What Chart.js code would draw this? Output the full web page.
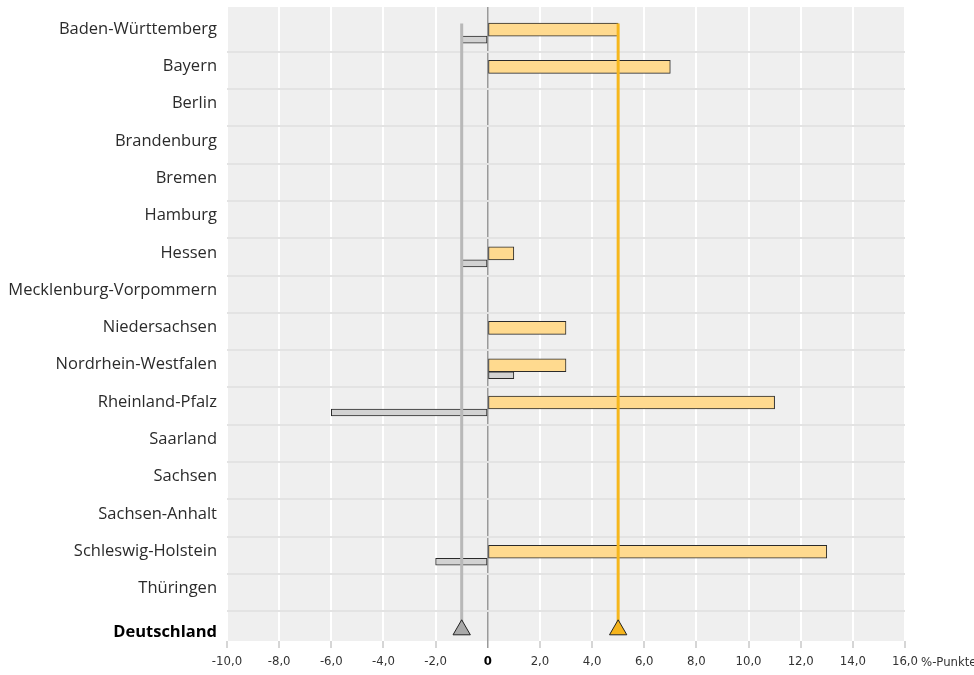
<!DOCTYPE html>
<html>
<head>
<meta charset="utf-8">
<script src="https://cdn.jsdelivr.net/npm/chart.js@4/dist/chart.umd.min.js"></script>
<style>
  html, body { margin: 0; padding: 0; background: #ffffff; }
  #wrap { width: 974px; height: 675px; position: relative; }
</style>
</head>
<body>
<div id="wrap"><canvas id="c"></canvas></div>
<script>
// ---- data ----
const categories = ['Baden-Württemberg', 'Bayern', 'Berlin', 'Brandenburg', 'Bremen', 'Hamburg', 'Hessen',
  'Mecklenburg-Vorpommern', 'Niedersachsen', 'Nordrhein-Westfalen', 'Rheinland-Pfalz', 'Saarland',
  'Sachsen', 'Sachsen-Anhalt', 'Schleswig-Holstein', 'Thüringen'];
const totalLabel = 'Deutschland';
const yellowValues = [5, 7, null, null, null, null, 1, null, 3, 3, 11, null, null, null, 13, null];
const grayValues = [-1, null, null, null, null, null, -1, null, null, 1, -6, null, null, null, -2, null];
const totalYellow = 5;
const totalGray = -1;
const xTickValues = [-10, -8, -6, -4, -2, 0, 2, 4, 6, 8, 10, 12, 14, 16];
const xTickLabels = ['-10,0', '-8,0', '-6,0', '-4,0', '-2,0', '0', '2,0', '4,0', '6,0', '8,0', '10,0', '12,0', '14,0', '16,0'];
const unitLabel = '%-Punkte';

// ---- layout / style constants ----
const totalIndex = categories.length;      // row of "Deutschland"
const rowMin = -0.7, rowMax = totalIndex + 0.3;
const barShift = 0.08;                      // bar group offset inside a row (rows)
const guideStart = -0.26;                   // where guide lines start (rows)
const labelFont = "'Open Sans', 'Noto Sans', sans-serif";
const tickFont = "'DejaVu Sans Condensed', 'Liberation Sans Narrow', 'Roboto', sans-serif";
const tickSize = 13;

const noPad = (s) => { s.paddingTop = 0; s.paddingBottom = 0; s.paddingLeft = 0; s.paddingRight = 0; };

const bgPlugin = {
  id: 'bg',
  beforeDraw(chart) {
    const a = chart.chartArea, ctx = chart.ctx;
    ctx.save();
    ctx.fillStyle = '#efefef';
    ctx.fillRect(a.left, a.top, a.right - a.left, a.bottom - a.top);
    ctx.restore();
  },
  afterDraw(chart) {
    const xs = chart.scales.x, ctx = chart.ctx;
    const last = xTickValues[xTickValues.length - 1];
    const px = xs.getPixelForValue(last);
    ctx.save();
    ctx.font = tickSize + 'px ' + tickFont;
    ctx.fillStyle = '#333333';
    ctx.textBaseline = 'middle';
    ctx.textAlign = 'left';
    const w = ctx.measureText(xTickLabels[xTickLabels.length - 1]).width;
    ctx.fillText(unitLabel, px + w / 2 + 3, 663);
    ctx.restore();
  }
};

const yellowData = yellowValues.map((v, i) => ({ x: v, y: i }));
const grayData = grayValues.map((v, i) => ({ x: v, y: i }));

new Chart(document.getElementById('c'), {
  type: 'bar',
  data: {
    datasets: [
      {
        type: 'line', label: 'Deutschland (gelb)', order: 0,
        data: [{ x: totalYellow, y: guideStart }, { x: totalYellow, y: totalIndex }],
        xAxisID: 'x', yAxisID: 'y',
        borderColor: '#f6b71d', borderWidth: 3,
        pointRadius: [0, 10], pointStyle: 'triangle',
        pointBackgroundColor: '#f5b41c', pointBorderColor: '#222222', pointBorderWidth: 1
      },
      {
        type: 'line', label: 'Deutschland (grau)', order: 0,
        data: [{ x: totalGray, y: guideStart }, { x: totalGray, y: totalIndex }],
        xAxisID: 'x', yAxisID: 'y',
        borderColor: '#b8b8b8', borderWidth: 3,
        pointRadius: [0, 10], pointStyle: 'triangle',
        pointBackgroundColor: '#a9a9a9', pointBorderColor: '#222222', pointBorderWidth: 1
      },
      {
        type: 'bar', label: 'gelb', order: 1,
        data: yellowData, xAxisID: 'x', yAxisID: 'yb',
        backgroundColor: '#ffda8f', borderColor: '#2a2a2a', borderWidth: 1, borderSkipped: false,
        barThickness: 13
      },
      {
        type: 'bar', label: 'grau', order: 1,
        data: grayData, xAxisID: 'x', yAxisID: 'yb',
        backgroundColor: '#d2d2d2', borderColor: '#2a2a2a', borderWidth: 1, borderSkipped: false,
        barThickness: 7
      }
    ]
  },
  options: {
    indexAxis: 'y',
    responsive: true,
    maintainAspectRatio: false,
    animation: false,
    events: [],
    layout: { autoPadding: false, padding: { left: 0, right: 69, top: 7, bottom: 0 } },
    plugins: { legend: { display: false }, tooltip: { enabled: false } },
    scales: {
      x: {
        type: 'linear', position: 'bottom', offset: false,
        min: xTickValues[0], max: xTickValues[xTickValues.length - 1],
        afterBuildTicks: (s) => { s.ticks = xTickValues.map(v => ({ value: v })); },
        afterFit: (s) => { s.height = 34; noPad(s); },
        border: { display: false },
        grid: {
          offset: false,
          color: (c) => (c.tick && c.tick.value === 0) ? '#9a9a9a' : '#ffffff',
          lineWidth: (c) => (c.tick && c.tick.value === 0) ? 1.5 : 2,
          tickColor: (c) => (c.tick && c.tick.value === 0) ? '#9a9a9a' : '#c8c8c8',
          tickLength: 7,
          tickWidth: 1.5
        },
        ticks: {
          autoSkip: false, maxRotation: 0, padding: 6,
          callback: (v) => xTickLabels[xTickValues.indexOf(v)],
          color: (c) => (c.tick && c.tick.value === 0) ? '#000000' : '#333333',
          font: (c) => (c.tick && c.tick.value === 0)
            ? { family: tickFont, size: tickSize, weight: 'bold' }
            : { family: tickFont, size: tickSize }
        }
      },
      y: {
        type: 'linear', position: 'left', reverse: true, offset: false,
        min: rowMin, max: rowMax,
        afterBuildTicks: (s) => {
          const t = [];
          categories.forEach((_, i) => { t.push({ value: i }); t.push({ value: i + 0.5 }); });
          t.push({ value: totalIndex });
          s.ticks = t;
        },
        afterFit: (s) => { s.width = 227; noPad(s); },
        border: { display: false },
        grid: {
          offset: false,
          drawTicks: false,
          color: (c) => (c.tick && !Number.isInteger(c.tick.value)) ? '#e3e3e3' : 'rgba(0,0,0,0)',
          lineWidth: 2
        },
        ticks: {
          autoSkip: false, padding: 10, labelOffset: 2,
          callback: (v) => {
            if (v === totalIndex) return totalLabel;
            return Number.isInteger(v) ? [categories[v], ''] : '';
          },
          color: (c) => (c.tick && c.tick.value === totalIndex) ? '#000000' : '#2b2b2b',
          font: (c) => (c.tick && c.tick.value === totalIndex)
            ? { family: labelFont, size: 16.5, weight: 'bold' }
            : { family: labelFont, size: 16.5, lineHeight: '12px' }
        }
      },
      yb: {
        type: 'linear', display: false, reverse: true, offset: false,
        grid: { offset: false },
        min: rowMin - barShift, max: rowMax - barShift
      }
    }
  },
  plugins: [bgPlugin]
});
</script>
</body>
</html>
